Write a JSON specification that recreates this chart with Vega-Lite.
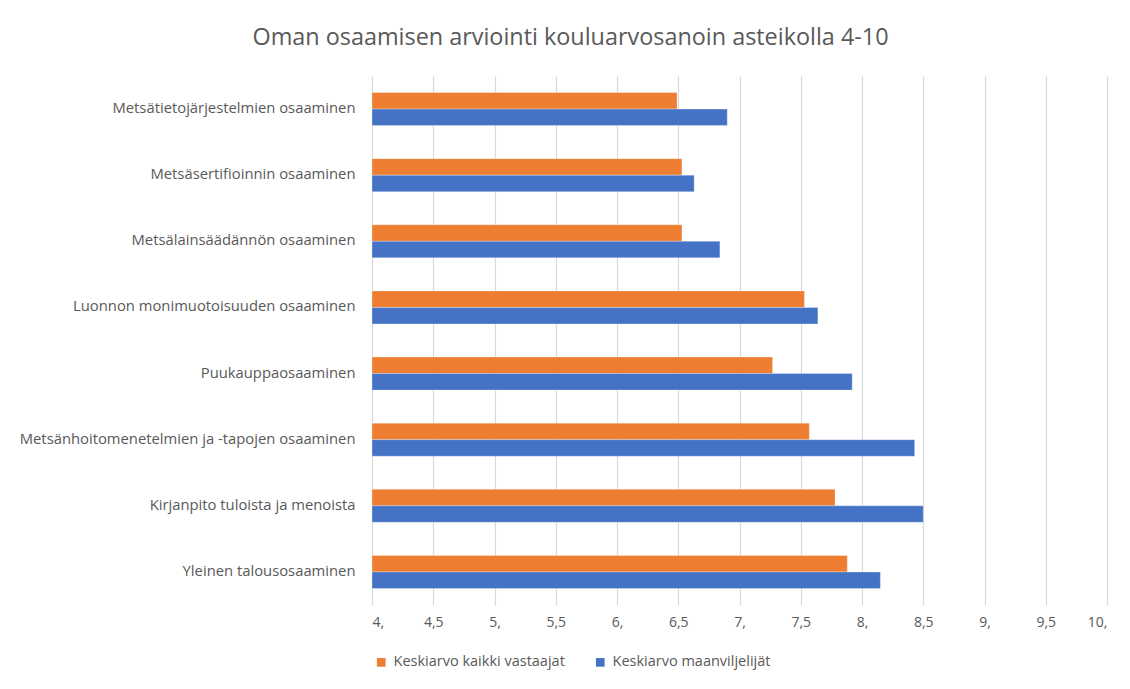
{
  "$schema": "https://vega.github.io/schema/vega-lite/v6.json",
  "width": 735,
  "height": 529,
  "autosize": {"type": "none"},
  "padding": {"left": 372, "top": 76, "right": 23, "bottom": 84},
  "background": "white",
  "title": {
    "text": "Oman osaamisen arviointi kouluarvosanoin asteikolla 4-10",
    "anchor": "middle",
    "dx": -169,
    "offset": 26,
    "fontSize": 23.4,
    "font": "Open Sans",
    "fontWeight": "normal",
    "color": "#595959"
  },
  "data": {
    "values": [
      {"osaaminen": "Metsätietojärjestelmien osaaminen", "ryhma": "Keskiarvo kaikki vastaajat", "arvo": 6.49},
      {"osaaminen": "Metsätietojärjestelmien osaaminen", "ryhma": "Keskiarvo maanviljelijät", "arvo": 6.9},
      {"osaaminen": "Metsäsertifioinnin osaaminen", "ryhma": "Keskiarvo kaikki vastaajat", "arvo": 6.53},
      {"osaaminen": "Metsäsertifioinnin osaaminen", "ryhma": "Keskiarvo maanviljelijät", "arvo": 6.63},
      {"osaaminen": "Metsälainsäädännön osaaminen", "ryhma": "Keskiarvo kaikki vastaajat", "arvo": 6.53},
      {"osaaminen": "Metsälainsäädännön osaaminen", "ryhma": "Keskiarvo maanviljelijät", "arvo": 6.84},
      {"osaaminen": "Luonnon monimuotoisuuden osaaminen", "ryhma": "Keskiarvo kaikki vastaajat", "arvo": 7.53},
      {"osaaminen": "Luonnon monimuotoisuuden osaaminen", "ryhma": "Keskiarvo maanviljelijät", "arvo": 7.64},
      {"osaaminen": "Puukauppaosaaminen", "ryhma": "Keskiarvo kaikki vastaajat", "arvo": 7.27},
      {"osaaminen": "Puukauppaosaaminen", "ryhma": "Keskiarvo maanviljelijät", "arvo": 7.92},
      {"osaaminen": "Metsänhoitomenetelmien ja -tapojen osaaminen", "ryhma": "Keskiarvo kaikki vastaajat", "arvo": 7.57},
      {"osaaminen": "Metsänhoitomenetelmien ja -tapojen osaaminen", "ryhma": "Keskiarvo maanviljelijät", "arvo": 8.43},
      {"osaaminen": "Kirjanpito tuloista ja menoista", "ryhma": "Keskiarvo kaikki vastaajat", "arvo": 7.78},
      {"osaaminen": "Kirjanpito tuloista ja menoista", "ryhma": "Keskiarvo maanviljelijät", "arvo": 8.5},
      {"osaaminen": "Yleinen talousosaaminen", "ryhma": "Keskiarvo kaikki vastaajat", "arvo": 7.88},
      {"osaaminen": "Yleinen talousosaaminen", "ryhma": "Keskiarvo maanviljelijät", "arvo": 8.15}
    ]
  },
  "mark": {"type": "bar", "stroke": "white", "strokeWidth": 0.5, "strokeOpacity": 0.6},
  "encoding": {
    "y": {
      "field": "osaaminen",
      "type": "nominal",
      "sort": null,
      "scale": {"paddingInner": 0.5, "paddingOuter": 0.25},
      "axis": {
        "title": null,
        "domain": false,
        "ticks": false,
        "labelPadding": 17,
        "labelFont": "Open Sans",
        "labelFontSize": 14.8,
        "labelColor": "#595959",
        "labelLimit": 400
      }
    },
    "yOffset": {
      "field": "ryhma",
      "type": "nominal",
      "sort": ["Keskiarvo kaikki vastaajat", "Keskiarvo maanviljelijät"]
    },
    "x": {
      "field": "arvo",
      "type": "quantitative",
      "scale": {"domain": [4, 10], "zero": false, "nice": false},
      "axis": {
        "title": null,
        "domain": false,
        "ticks": false,
        "values": [4, 4.5, 5, 5.5, 6, 6.5, 7, 7.5, 8, 8.5, 9, 9.5, 10],
        "labelExpr": "datum.value % 1 == 0 ? datum.value + ',' : replace(format(datum.value, '.1f'), '.', ',')",
        "labelPadding": 10,
        "labelFont": "Open Sans",
        "labelFontSize": 14,
        "labelColor": "#595959",
        "gridColor": "#d9d9d9",
        "gridWidth": 1.2
      }
    },
    "x2": {"datum": 4},
    "color": {
      "field": "ryhma",
      "type": "nominal",
      "scale": {
        "domain": ["Keskiarvo kaikki vastaajat", "Keskiarvo maanviljelijät"],
        "range": ["#ED7D31", "#4472C4"]
      },
      "legend": {
        "title": null,
        "orient": "none",
        "direction": "horizontal",
        "legendX": 2,
        "legendY": 579,
        "symbolType": "square",
        "symbolSize": 75,
        "symbolStrokeWidth": 0,
        "symbolOpacity": 1,
        "labelFont": "Open Sans",
        "labelFontSize": 14.5,
        "labelLimit": 400,
        "labelColor": "#595959",
        "columnPadding": 28,
        "labelOffset": 5
      }
    }
  },
  "config": {
    "view": {"stroke": null}
  }
}
